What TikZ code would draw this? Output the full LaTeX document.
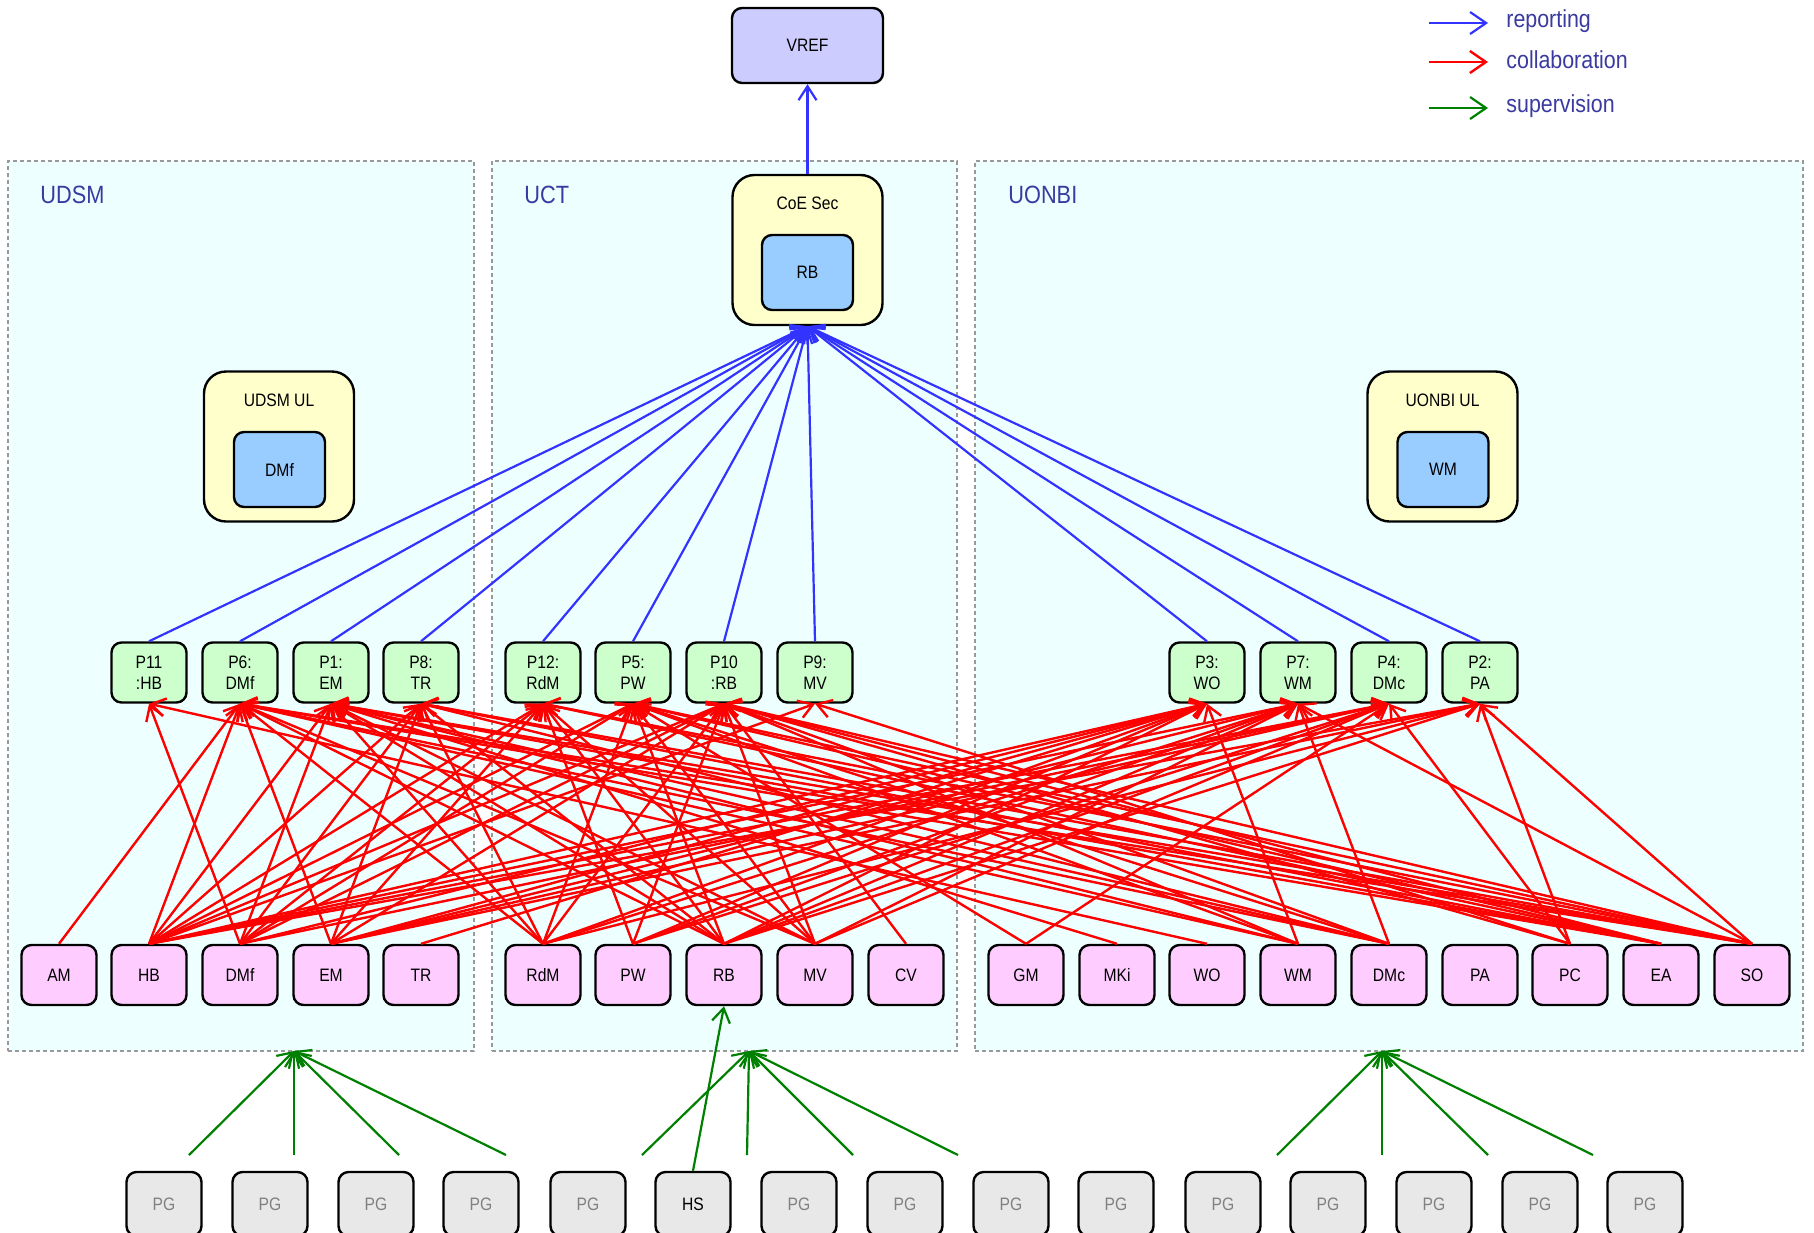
\documentclass[tikz,border=0pt]{standalone}
\usepackage{fontspec}
\setmainfont[FakeStretch=0.87]{Liberation Sans}
\usetikzlibrary{arrows.meta}
\definecolor{clfill}{HTML}{EEFFFF}
\definecolor{clborder}{HTML}{999999}
\definecolor{labcol}{HTML}{3A3AA0}
\definecolor{vreffill}{HTML}{CCCCFF}
\definecolor{ulfill}{HTML}{FFFFCC}
\definecolor{innerfill}{HTML}{99CCFF}
\definecolor{pfill}{HTML}{CCFFCC}
\definecolor{sfill}{HTML}{FFCCFF}
\definecolor{pgfill}{HTML}{E8E8E8}
\definecolor{repcol}{HTML}{3333FF}
\definecolor{colcol}{HTML}{FF0000}
\definecolor{supcol}{HTML}{008000}
\tikzset{
  box/.style={draw=black, line width=1.2pt, rounded corners=5pt, minimum width=37.5pt,
    minimum height=30pt, inner sep=0pt, align=center, font=\fontsize{9}{10.5}\selectfont},
  pnode/.style={box, fill=pfill},
  snode/.style={box, fill=sfill},
  pgnode/.style={box, fill=pgfill, text=gray, minimum height=32pt},
  hsnode/.style={box, fill=pgfill, minimum height=32pt},
  ulbox/.style={box, fill=ulfill, rounded corners=11pt, minimum width=75pt, minimum height=75pt},
  innerbox/.style={box, fill=innerfill, minimum width=45.5pt, minimum height=37.5pt},
  cluster/.style={draw=clborder, fill=clfill, line width=0.6pt, dash pattern=on 2pt off 1.5pt, inner sep=0pt},
  clabel/.style={text=labcol, font=\fontsize{12.5}{14}\selectfont, anchor=west, inner sep=0pt},
  legtext/.style={text=labcol, font=\fontsize{12.3}{14}\selectfont, anchor=west, inner sep=0pt},
  tip/.style={-{Straight Barb[length=7pt,width=9pt]}},
  rep/.style={tip, draw=repcol, line width=1.1pt},
  col/.style={tip, draw=colcol, line width=1.2pt},
  sup/.style={tip, draw=supcol, line width=1.1pt},
}
\begin{document}
\begin{tikzpicture}[x=0.5pt,y=-0.5pt]
\useasboundingbox (0,0) rectangle (1814,1232);
% clusters
\node[cluster, minimum width=233pt, minimum height=445pt] (udsm) at (241,606) {};
\node[cluster, minimum width=232.5pt, minimum height=445pt] (uct) at (724.5,606) {};
\node[cluster, minimum width=414pt, minimum height=445pt] (uonbi) at (1389,606) {};
\node[clabel] (udsmlab) at (40,195) {UDSM};
\node[clabel] (uctlab) at (524,195) {UCT};
\node[clabel] (uonbilab) at (1008,195) {UONBI};
% top
\node[box, fill=vreffill, minimum width=75.5pt, minimum height=37.5pt] (vref) at (807.5,45.5) {VREF};
\node[ulbox] (coe) at (807.5,250) {};
\node[box, draw=none, fill=none] (coelab) at (807.5,203) {CoE Sec};
\node[innerbox] (coeRB) at (807.5,272.5) {RB};
\node[ulbox] (udsmul) at (279,446.5) {};
\node[box, draw=none, fill=none] (udsmullab) at (279,400) {UDSM UL};
\node[innerbox] (ulDMf) at (279.5,469.5) {DMf};
\node[ulbox] (uonbiul) at (1442.5,446.5) {};
\node[box, draw=none, fill=none] (uonbiullab) at (1442.5,400) {UONBI UL};
\node[innerbox] (ulWM) at (1443,469.5) {WM};
% project nodes
\foreach \n/\x/\t in {p11/149/P11\\:HB, p6/240/P6:\\DMf, p1/331/P1:\\EM, p8/421/P8:\\TR,
  p12/543/P12:\\RdM, p5/633/P5:\\PW, p10/724/P10\\:RB, p9/815/P9:\\MV,
  p3/1207/P3:\\WO, p7/1298/P7:\\WM, p4/1389/P4:\\DMc, p2/1480/P2:\\PA}
  \node[pnode] (\n) at (\x,672.5) {\t};
% people nodes
\foreach \n/\x in {AM/59, HB/149, DMf/240, EM/331, TR/421, RdM/543, PW/633, RB/724, MV/815, CV/906,
  GM/1026, MKi/1117, WO/1207, WM/1298, DMc/1389, PA/1480, PC/1570, EA/1661, SO/1752}
  \node[snode] (\n) at (\x,975) {\n};
% PG nodes
\foreach \i/\x in {1/164, 2/270, 3/376, 4/481, 5/588, 7/799, 8/905, 9/1011, 10/1116, 11/1223, 12/1328, 13/1434, 14/1540, 15/1645}
  \node[pgnode] (pg\i) at (\x,1204) {PG};
\node[hsnode] (HS) at (693,1204) {HS};
% reporting
\draw[rep] (coe.north) -- (vref.south);
\foreach \n in {p11,p6,p1,p8,p12,p5,p10,p9,p3,p7,p4,p2}
  \draw[rep] (\n.north) -- (coe.south);
% collaboration
\foreach \s/\t in {AM/p6,
 HB/p6, HB/p1, HB/p8, HB/p12, HB/p5, HB/p10, HB/p9, HB/p3, HB/p7, HB/p4, HB/p2,
 DMf/p11, DMf/p1, DMf/p8, DMf/p12, DMf/p5, DMf/p10, DMf/p3, DMf/p4,
 EM/p6, EM/p8, EM/p12, EM/p10, EM/p3, EM/p7, EM/p4, EM/p2,
 TR/p3,
 RdM/p6, RdM/p1, RdM/p8, RdM/p5, RdM/p10, RdM/p3, RdM/p7, RdM/p2,
 PW/p12, PW/p10, PW/p3, PW/p7, PW/p4,
 RB/p12, RB/p5, RB/p6, RB/p1, RB/p8, RB/p3, RB/p7, RB/p4, RB/p2,
 MV/p12, MV/p5, MV/p10, MV/p6, MV/p1, MV/p7, MV/p4,
 CV/p10, GM/p5, GM/p4, MKi/p1, WO/p11,
 WM/p3, WM/p6, WM/p1, WM/p5, WM/p10,
 DMc/p7, DMc/p6, DMc/p1, DMc/p8, DMc/p5, DMc/p10,
 PC/p2, PC/p4, PC/p9, PC/p10,
 EA/p6, EA/p1, EA/p8, EA/p12, EA/p5, EA/p10,
 SO/p7, SO/p2, SO/p6, SO/p1, SO/p8, SO/p12, SO/p5, SO/p10}
  \draw[col] (\s.north) -- (\t.south);
% supervision
\coordinate (inA) at (294,1051);
\coordinate (inB) at (749,1051);
\coordinate (inC) at (1382,1051);
\foreach \k/\x in {a1/189, a2/294, a3/399, a4/506} {\coordinate (\k) at (\x,1155); \draw[sup] (\k) -- (inA);}
\foreach \k/\x in {b1/642, b2/747, b3/853, b4/958} {\coordinate (\k) at (\x,1155); \draw[sup] (\k) -- (inB);}
\foreach \k/\x in {c1/1277, c2/1382, c3/1488, c4/1593} {\coordinate (\k) at (\x,1155); \draw[sup] (\k) -- (inC);}
\draw[sup] (HS.north) -- (RB.south);
% legend
\coordinate (l1a) at (1429,23); \coordinate (l1b) at (1488,23);
\coordinate (l2a) at (1429,62); \coordinate (l2b) at (1488,62);
\coordinate (l3a) at (1429,108); \coordinate (l3b) at (1488,108);
\draw[rep, -{Straight Barb[length=8pt,width=11pt]}] (l1a) -- (l1b);
\draw[col, -{Straight Barb[length=8pt,width=11pt]}] (l2a) -- (l2b);
\draw[sup, -{Straight Barb[length=8pt,width=11pt]}] (l3a) -- (l3b);
\node[legtext] (lt1) at (1506,21) {reporting};
\node[legtext] (lt2) at (1506,60) {collaboration};
\node[legtext] (lt3) at (1506,106) {supervision};
\end{tikzpicture}
\end{document}
